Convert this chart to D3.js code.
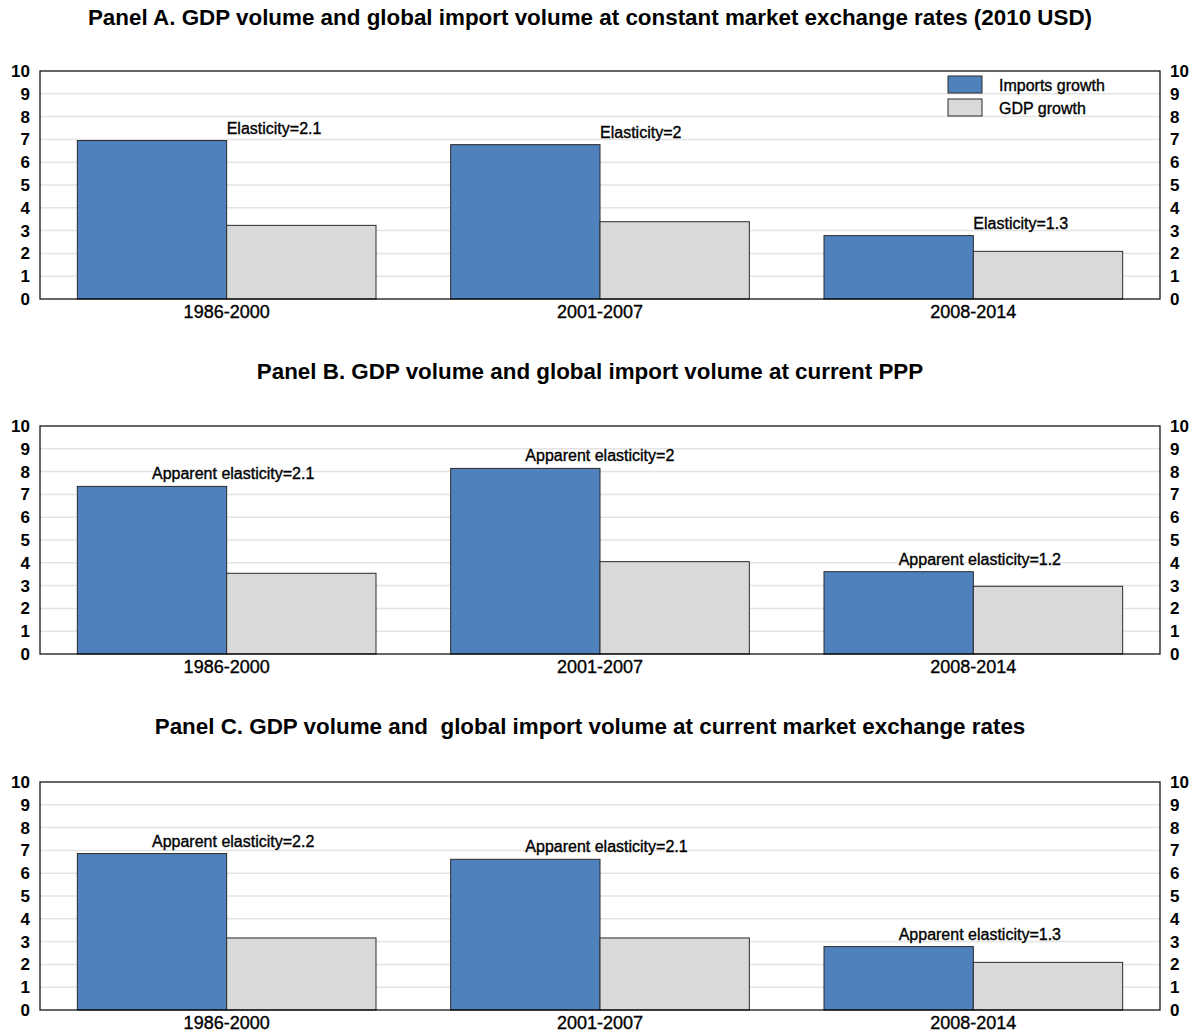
<!DOCTYPE html>
<html>
<head>
<meta charset="utf-8">
<script src="https://cdn.jsdelivr.net/npm/d3@7"></script>
<style>
  html, body { margin: 0; padding: 0; background: #fff; }
  svg { display: block; font-family: "Liberation Sans", Arial, sans-serif; }
  .heavy { stroke: #000; stroke-width: 0.35px; paint-order: stroke; }
</style>
</head>
<body>
<svg id="chart" width="1200" height="1034"></svg>
<script>
// ---- data ----
const periods = ["1986-2000", "2001-2007", "2008-2014"];
const seriesNames = ["Imports growth", "GDP growth"];
const yTicks = [0, 1, 2, 3, 4, 5, 6, 7, 8, 9, 10];

const titleA = "Panel A. GDP volume and global import volume at constant market exchange rates (2010 USD)";
const importsA = [6.95, 6.77, 2.78];
const gdpA = [3.23, 3.39, 2.09];
const labelsA = ["Elasticity=2.1", "Elasticity=2", "Elasticity=1.3"];

const titleB = "Panel B. GDP volume and global import volume at current PPP";
const importsB = [7.35, 8.14, 3.61];
const gdpB = [3.54, 4.05, 2.97];
const labelsB = ["Apparent elasticity=2.1", "Apparent elasticity=2", "Apparent elasticity=1.2"];

const titleC = "Panel C. GDP volume and  global import volume at current market exchange rates";
const importsC = [6.86, 6.61, 2.78];
const gdpC = [3.16, 3.16, 2.09];
const labelsC = ["Apparent elasticity=2.2", "Apparent elasticity=2.1", "Apparent elasticity=1.3"];

// ---- styling / layout ----
const colors = { "Imports growth": "#4f81bd", "GDP growth": "#d9d9d9" };
const svg = d3.select("#chart");
const left = 40, right = 1160;

const panels = [
  { title: titleA, imports: importsA, gdp: gdpA, labels: labelsA, top: 71, bottom: 299, titleY: 25, legend: true, labelAt: "center" },
  { title: titleB, imports: importsB, gdp: gdpB, labels: labelsB, top: 426, bottom: 654, titleY: 379, legend: false, labelAt: "bar" },
  { title: titleC, imports: importsC, gdp: gdpC, labels: labelsC, top: 782, bottom: 1010, titleY: 734, legend: false, labelAt: "bar" }
];

const x0 = d3.scaleBand().domain(periods).range([left, right]).paddingInner(0).paddingOuter(0);
const x1 = d3.scaleBand().domain(seriesNames).range([0, x0.bandwidth()]).paddingInner(0).paddingOuter(0.25);

panels.forEach(p => {
  const g = svg.append("g");
  const y = d3.scaleLinear().domain([0, 10]).range([p.bottom, p.top]);

  // title
  g.append("text")
    .attr("x", 590).attr("y", p.titleY)
    .attr("text-anchor", "middle")
    .attr("font-size", 22.4).attr("font-weight", "bold")
    .attr("fill", "#000")
    .style("white-space", "pre")
    .text(p.title);

  // gridlines
  g.append("g").selectAll("line")
    .data(yTicks.filter(t => t > 0 && t < 10))
    .join("line")
    .attr("x1", left).attr("x2", right)
    .attr("y1", d => y(d)).attr("y2", d => y(d))
    .attr("stroke", "#e3e3e3").attr("stroke-width", 1.5);

  // bars
  const rows = periods.map((per, i) => ({ period: per, values: [
    { key: "Imports growth", v: p.imports[i] },
    { key: "GDP growth", v: p.gdp[i] }
  ]}));

  const grp = g.append("g").selectAll("g")
    .data(rows).join("g")
    .attr("transform", d => `translate(${x0(d.period)},0)`);

  grp.selectAll("rect")
    .data(d => d.values).join("rect")
    .attr("x", d => x1(d.key))
    .attr("width", x1.bandwidth())
    .attr("y", d => y(d.v))
    .attr("height", d => y(0) - y(d.v))
    .attr("fill", d => colors[d.key])
    .attr("stroke", "#2b2b2b").attr("stroke-width", 1);

  // annotation labels
  g.append("g").selectAll("text")
    .data(rows).join("text")
    .attr("class", "heavy")
    .attr("x", (d, i) => p.labelAt === "center"
        ? x0(d.period) + x0.bandwidth() / 2
        : x0(d.period) + x1("Imports growth") + x1.bandwidth() / 2)
    .attr("y", (d, i) => y(p.imports[i]) - 7)
    .attr("font-size", 16)
    .attr("fill", "#000")
    .text((d, i) => p.labels[i]);

  // frame
  g.append("rect")
    .attr("x", left).attr("y", p.top)
    .attr("width", right - left).attr("height", p.bottom - p.top)
    .attr("fill", "none").attr("stroke", "#000").attr("stroke-width", 1.2);

  // axes
  const yl = d3.axisLeft(y).tickValues(yTicks).tickSize(0).tickPadding(10);
  const yr = d3.axisRight(y).tickValues(yTicks).tickSize(0).tickPadding(10);
  const axL = g.append("g").attr("transform", `translate(${left},0)`).call(yl);
  const axR = g.append("g").attr("transform", `translate(${right},0)`).call(yr);
  [axL, axR].forEach(a => {
    a.select(".domain").remove();
    a.selectAll("text").attr("font-size", 17).attr("font-weight", "bold")
      .attr("font-family", "'Liberation Sans', Arial, sans-serif").attr("fill", "#000");
  });

  const xa = d3.axisBottom(x0).tickSize(0).tickPadding(6);
  const axX = g.append("g").attr("transform", `translate(0,${p.bottom})`).call(xa);
  axX.select(".domain").remove();
  axX.selectAll("text").attr("font-size", 18).attr("class", "heavy")
    .attr("font-family", "'Liberation Sans', Arial, sans-serif").attr("fill", "#000");

  // legend
  if (p.legend) {
    const lg = g.append("g").attr("transform", "translate(948,76)");
    const li = lg.selectAll("g").data(seriesNames).join("g")
      .attr("transform", (d, i) => `translate(0,${i * 23})`);
    li.append("rect").attr("width", 34).attr("height", 17)
      .attr("fill", d => colors[d]).attr("stroke", "#2b2b2b").attr("stroke-width", 1);
    li.append("text").attr("x", 51).attr("y", 14.5).attr("class", "heavy")
      .attr("font-size", 16).attr("fill", "#000").text(d => d);
  }
});
</script>
</body>
</html>
